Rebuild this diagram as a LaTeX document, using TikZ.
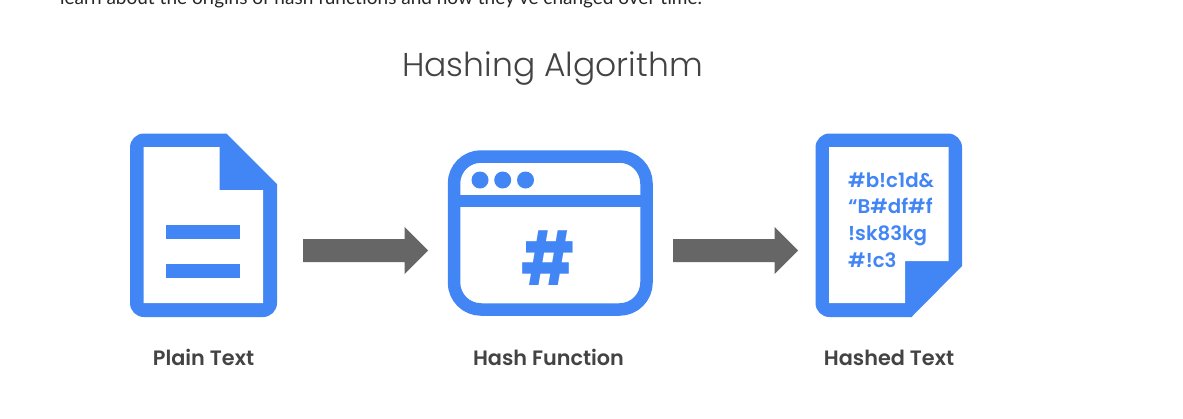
\documentclass[tikz,border=0pt]{standalone}
\usepackage{fontspec}
\setmainfont{Lato}
\newfontfamily\titlefont{Poppins Light}
\newfontfamily\labelfont{Poppins SemiBold}
\newfontfamily\glyphfont{Poppins Bold}
\definecolor{gblue}{HTML}{4285F4}
\definecolor{arrowgrey}{HTML}{666666}
\definecolor{inkgrey}{HTML}{434343}
\begin{document}
\begin{tikzpicture}[x=1pt,y=-1pt,
  iconfill/.style={fill=gblue,draw=none},
  hole/.style={fill=white,draw=none},
  blockarrow/.style={fill=arrowgrey,draw=none},
  steplabel/.style={font=\labelfont\fontsize{20.8}{22}\selectfont,text=inkgrey,anchor=base,inner sep=0pt},
  heading/.style={font=\titlefont\fontsize{33}{36}\selectfont,text=inkgrey,anchor=base,inner sep=0pt},
  hashline/.style={font=\labelfont\fontsize{19.8}{22}\selectfont,text=gblue,anchor=base west,inner sep=0pt}]
\useasboundingbox (0,0) rectangle (1183,418);
\clip (0,0) rectangle (1183,418);
\fill[white] (0,0) rectangle (1183,418);
\node[anchor=base west,inner sep=0pt,font=\fontsize{19}{20}\selectfont,text=black!85] (intro) at (60,4.5) {learn about the origins of hash functions and how they've changed over time.};
\node[heading] (title) at (552.5,76) {Hashing Algorithm};
% plain text icon
\fill[iconfill] (144,133.5) -- (226.5,133.5) -- (277,184) -- (277,303) arc[start angle=0,end angle=90,radius=14] -- (144,317) arc[start angle=90,end angle=180,radius=14] -- (130,147.5) arc[start angle=180,end angle=270,radius=14] -- cycle;
\fill[hole] (143.5,147) -- (219.5,147) -- (219.5,190) -- (263,190) -- (263,303) -- (143.5,303) -- cycle;
\fill[iconfill] (166,225) rectangle (240,239);
\fill[iconfill] (166,264) rectangle (240,278);
% hash function icon
\draw[gblue,line width=12.5pt,rounded corners=27pt] (454,156.5) rectangle (646.5,309.5);
\fill[iconfill] (454,194.5) rectangle (646.5,207);
\fill[iconfill] (480,180) circle (8.5);
\fill[iconfill] (502.7,180) circle (8.5);
\fill[iconfill] (525.5,180) circle (8.5);
\node[font=\glyphfont\fontsize{74}{74}\selectfont,text=gblue,inner sep=0pt,xscale=.8] (hash) at (548,258.5) {\#};
% hashed text icon
\fill[iconfill] (829.5,133.5) -- (948,133.5) arc[start angle=-90,end angle=0,radius=14] -- (962,266) -- (911.5,317) -- (829.5,317) arc[start angle=90,end angle=180,radius=14] -- (815.5,147.5) arc[start angle=180,end angle=270,radius=14] -- cycle;
\fill[hole] (829,147) -- (948.5,147) -- (948.5,261) -- (905,261) -- (905,303) -- (829,303) -- cycle;
\node[hashline] (l1) at (848,187) {\#b!c1d\&};
\node[hashline] (l2) at (848,213.5) {“B\#df\#f};
\node[hashline] (l3) at (848,240) {!sk83kg};
\node[hashline] (l4) at (848,267) {\#!c3};
% arrows
\fill[blockarrow] (303,239) -- (404.5,239) -- (404.5,227) -- (428,250.5) -- (404.5,274) -- (404.5,262) -- (303,262) -- cycle;
\fill[blockarrow] (673,239) -- (774.5,239) -- (774.5,227) -- (798,250.5) -- (774.5,274) -- (774.5,262) -- (673,262) -- cycle;
\node[steplabel] (plain) at (203.5,365) {Plain Text};
\node[steplabel] (func) at (548.5,365) {Hash Function};
\node[steplabel] (hashed) at (889,365) {Hashed Text};
\end{tikzpicture}
\end{document}
